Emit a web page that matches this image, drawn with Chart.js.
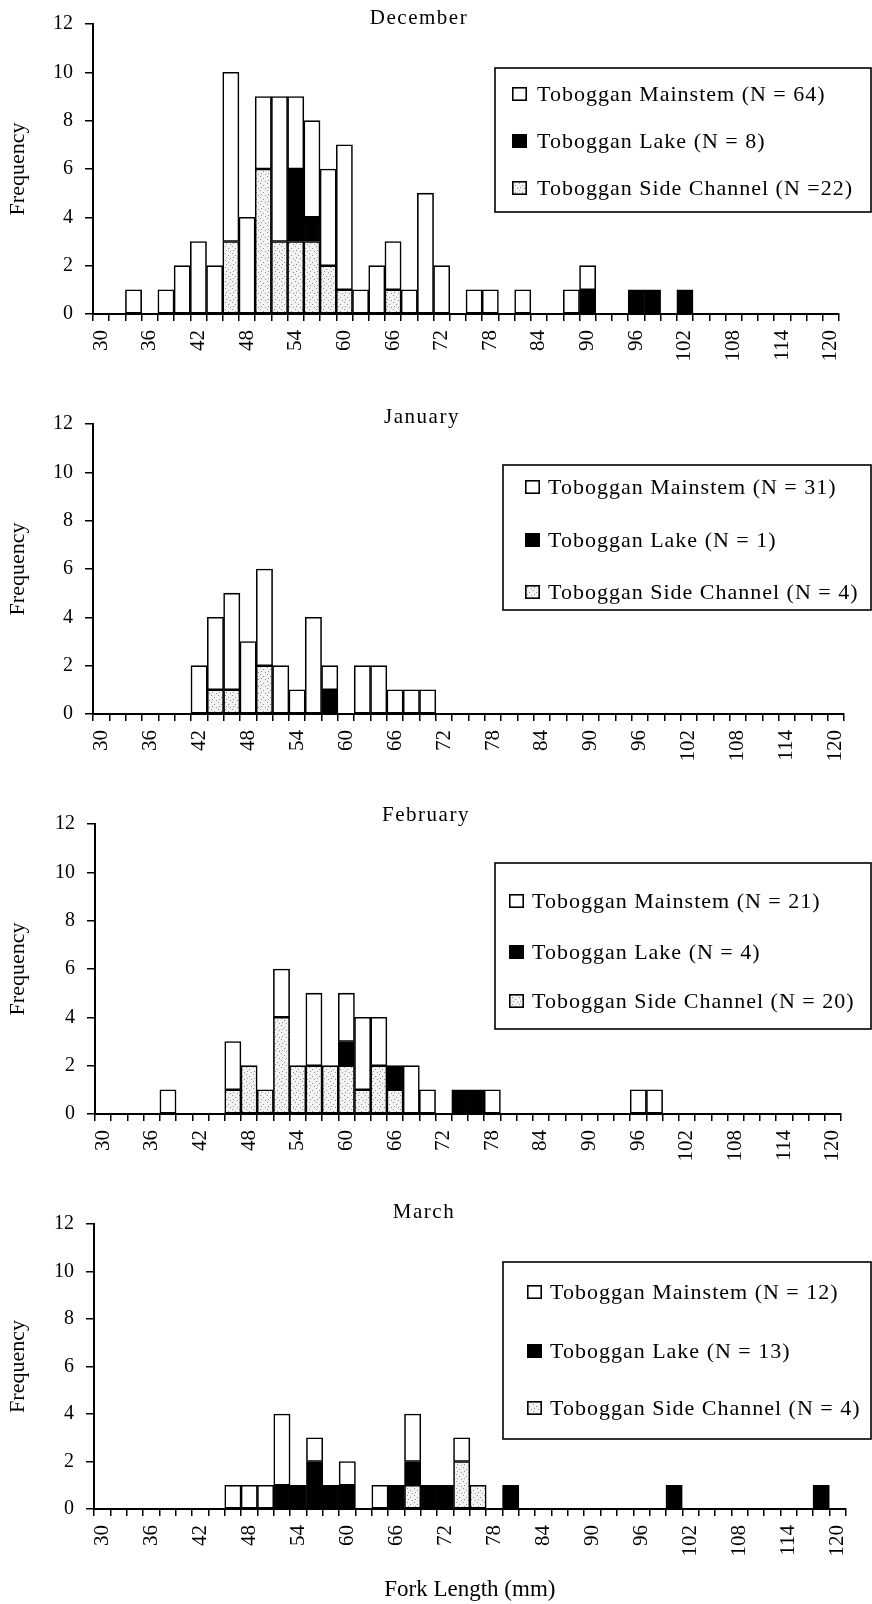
<!DOCTYPE html>
<html><head><meta charset="utf-8">
<script src="https://cdn.jsdelivr.net/npm/chart.js@4"></script>
<style>
html,body{margin:0;padding:0;background:#fff;}
#wrap{position:relative;width:872px;height:1604px;overflow:hidden;background:#fff;}
canvas{position:absolute;left:0;}
</style></head><body><div id="wrap">
<canvas id="c0" width="872" height="400" style="top:0px"></canvas>
<canvas id="c1" width="872" height="400" style="top:400px"></canvas>
<canvas id="c2" width="872" height="400" style="top:800px"></canvas>
<canvas id="c3" width="872" height="404" style="top:1200px"></canvas>
</div>
<script>
// ---- categories (2 mm fork-length bins) and shown tick labels ----
const categories = ['30','32','34','36','38','40','42','44','46','48','50','52','54','56','58','60','62','64','66','68','70','72','74','76','78','80','82','84','86','88','90','92','94','96','98','100','102','104','106','108','110','112','114','116','118','120'];
const shownTicks = ['30','36','42','48','54','60','66','72','78','84','90','96','102','108','114','120'];
const yTicks = [0,2,4,6,8,10,12];

// ---- December ----
const decMainstem = [0,0,1,0,1,2,3,2,7,4, 3,6,3,4,4,6,1,2,2,1, 5,2,0,1,1,0,1,0,0,1, 1,0,0,0,0,0,0,0,0,0, 0,0,0,0,0,0];
const decLake     = [0,0,0,0,0,0,0,0,0,0, 0,0,3,1,0,0,0,0,0,0, 0,0,0,0,0,0,0,0,0,0, 1,0,0,1,1,0,1,0,0,0, 0,0,0,0,0,0];
const decSide     = [0,0,0,0,0,0,0,0,3,0, 6,3,3,3,2,1,0,0,1,0, 0,0,0,0,0,0,0,0,0,0, 0,0,0,0,0,0,0,0,0,0, 0,0,0,0,0,0];
const decLabels   = ['Toboggan Mainstem (N = 64)','Toboggan Lake (N = 8)','Toboggan Side Channel (N =22)'];

// ---- January ----
const janMainstem = [0,0,0,0,0,0,2,3,4,3, 4,2,1,4,1,0,2,2,1,1, 1,0,0,0,0,0,0,0,0,0, 0,0,0,0,0,0,0,0,0,0, 0,0,0,0,0,0];
const janLake     = [0,0,0,0,0,0,0,0,0,0, 0,0,0,0,1,0,0,0,0,0, 0,0,0,0,0,0,0,0,0,0, 0,0,0,0,0,0,0,0,0,0, 0,0,0,0,0,0];
const janSide     = [0,0,0,0,0,0,0,1,1,0, 2,0,0,0,0,0,0,0,0,0, 0,0,0,0,0,0,0,0,0,0, 0,0,0,0,0,0,0,0,0,0, 0,0,0,0,0,0];
const janLabels   = ['Toboggan Mainstem (N = 31)','Toboggan Lake (N = 1)','Toboggan Side Channel (N = 4)'];

// ---- February ----
const febMainstem = [0,0,0,0,1,0,0,0,2,0, 0,2,0,3,0,2,3,2,0,2, 1,0,0,0,1,0,0,0,0,0, 0,0,0,1,1,0,0,0,0,0, 0,0,0,0,0,0];
const febLake     = [0,0,0,0,0,0,0,0,0,0, 0,0,0,0,0,1,0,0,1,0, 0,0,1,1,0,0,0,0,0,0, 0,0,0,0,0,0,0,0,0,0, 0,0,0,0,0,0];
const febSide     = [0,0,0,0,0,0,0,0,1,2, 1,4,2,2,2,2,1,2,1,0, 0,0,0,0,0,0,0,0,0,0, 0,0,0,0,0,0,0,0,0,0, 0,0,0,0,0,0];
const febLabels   = ['Toboggan Mainstem (N = 21)','Toboggan Lake (N = 4)','Toboggan Side Channel (N = 20)'];

// ---- March ----
const marMainstem = [0,0,0,0,0,0,0,0,1,1, 1,3,0,1,0,1,0,1,0,2, 0,0,1,0,0,0,0,0,0,0, 0,0,0,0,0,0,0,0,0,0, 0,0,0,0,0,0];
const marLake     = [0,0,0,0,0,0,0,0,0,0, 0,1,1,2,1,1,0,0,1,1, 1,1,0,0,0,1,0,0,0,0, 0,0,0,0,0,1,0,0,0,0, 0,0,0,0,1,0];
const marSide     = [0,0,0,0,0,0,0,0,0,0, 0,0,0,0,0,0,0,0,0,1, 0,0,2,1,0,0,0,0,0,0, 0,0,0,0,0,0,0,0,0,0, 0,0,0,0,0,0];
const marLabels   = ['Toboggan Mainstem (N = 12)','Toboggan Lake (N = 13)','Toboggan Side Channel (N = 4)'];

const FONT = '"Liberation Serif", "Times New Roman", serif';

function makeStipple(){
  const c = document.createElement('canvas'); c.width = 7; c.height = 7;
  const g = c.getContext('2d');
  g.fillStyle = '#f3f3f3'; g.fillRect(0,0,7,7);
  g.fillStyle = '#909090';
  g.fillRect(1,1,1,1); g.fillRect(4,3,1,1); g.fillRect(2,5,1,1); g.fillRect(6,6,1,1);
  return g.createPattern(c,'repeat');
}
const stipple = makeStipple();
// empty bins are left undrawn (no zero-height outline)
const present = (arr) => arr.map(v => (v === 0 ? null : v));

const titlePlugin = {
  id:'panelTitle',
  afterDraw(chart, args, o){
    const ctx = chart.ctx; ctx.save();
    ctx.font = '21px ' + FONT; ctx.letterSpacing = '1.5px';
    ctx.fillStyle = '#000'; ctx.textAlign = 'center'; ctx.textBaseline = 'middle';
    ctx.fillText(o.text, o.x, o.y); ctx.restore();
  }
};
const boxLegendPlugin = {
  id:'boxLegend',
  afterDraw(chart, args, o){
    const ctx = chart.ctx; ctx.save();
    ctx.fillStyle = '#fff'; ctx.fillRect(o.x, o.y, o.w, o.h);
    ctx.strokeStyle = '#000'; ctx.lineWidth = 1.6; ctx.strokeRect(o.x, o.y, o.w, o.h);
    const order = [2,1,0];
    order.forEach((di,k) => {
      const ds = chart.data.datasets[di];
      const cy = o.rows[k];
      ctx.fillStyle = ds.backgroundColor; ctx.fillRect(o.sw, cy-7, 15, 14);
      ctx.lineWidth = 1.6; ctx.strokeStyle = '#000'; ctx.strokeRect(o.sw+0.8, cy-6.2, 13.4, 12.4);
      ctx.fillStyle = '#000'; ctx.font = '22px ' + FONT; ctx.letterSpacing = '1px';
      ctx.textAlign = 'left'; ctx.textBaseline = 'middle';
      ctx.fillText(ds.label, o.tx, cy+1);
    });
    ctx.restore();
  }
};

const panels = [
  {id:'c0', title:'December', main:decMainstem, lake:decLake, side:decSide, labels:decLabels,
   padTop:23, padRight:33, yWidth:93, xHeight:86, tx:419, ty:18, xTitle:false,
   legend:{x:495, y:68, w:376, h:144, rows:[94,141,188], sw:512, tx:537}},
  {id:'c1', title:'January', main:janMainstem, lake:janLake, side:janSide, labels:janLabels,
   padTop:20, padRight:28, yWidth:93, xHeight:86, tx:422, ty:17, xTitle:false,
   legend:{x:503, y:65, w:368, h:145, rows:[87,140,192], sw:525, tx:548}},
  {id:'c2', title:'February', main:febMainstem, lake:febLake, side:febSide, labels:febLabels,
   padTop:18, padRight:31, yWidth:95, xHeight:86, tx:426, ty:15, xTitle:false,
   legend:{x:495, y:63, w:376, h:166, rows:[101,152,201], sw:509, tx:532}},
  {id:'c3', title:'March', main:marMainstem, lake:marLake, side:marSide, labels:marLabels,
   padTop:14, padRight:25, yWidth:94, xHeight:95, tx:424, ty:12, xTitle:true,
   legend:{x:503, y:62, w:368, h:177, rows:[92,151,208], sw:527, tx:550}}
];

panels.forEach(p => {
  new Chart(document.getElementById(p.id), {
    type:'bar',
    data:{
      labels: categories,
      datasets:[
        {label:p.labels[2], data:present(p.side), backgroundColor:stipple, stack:'s'},
        {label:p.labels[1], data:present(p.lake), backgroundColor:'#000000', stack:'s'},
        {label:p.labels[0], data:present(p.main), backgroundColor:'#ffffff', stack:'s'}
      ]
    },
    options:{
      responsive:false, animation:false, devicePixelRatio:1,
      layout:{padding:{top:p.padTop, right:p.padRight, left:0, bottom:0}},
      datasets:{bar:{barPercentage:1, categoryPercentage:1, borderColor:'#000', borderWidth:1.6, borderSkipped:false}},
      plugins:{
        legend:{display:false}, tooltip:{enabled:false},
        panelTitle:{text:p.title, x:p.tx, y:p.ty},
        boxLegend:p.legend
      },
      scales:{
        x:{
          stacked:true,
          grid:{display:true, drawOnChartArea:false, drawTicks:true, tickLength:7, color:'#000', lineWidth:1.5, offset:true},
          border:{display:true, color:'#000', width:2},
          ticks:{autoSkip:false, maxRotation:90, minRotation:90, padding:9, color:'#000',
                 font:{family:FONT, size:21},
                 callback:(v,i) => shownTicks.includes(categories[i]) ? categories[i] : ''},
          afterFit:(s) => { s.height = p.xHeight; },
          title: p.xTitle ? {display:true, text:'Fork Length (mm)', color:'#000',
                  font:{family:FONT, size:23, lineHeight:1.2}, padding:{top:0, bottom:0}} : {display:false}
        },
        y:{
          stacked:true, min:0, max:12,
          afterBuildTicks:(s) => { s.ticks = yTicks.map(v => ({value:v})); },
          grid:{drawOnChartArea:false, drawTicks:true, tickLength:8, color:'#000', lineWidth:1.5},
          border:{display:true, color:'#000', width:2},
          ticks:{padding:12, color:'#000', font:{family:FONT, size:20}},
          afterFit:(s) => { s.width = p.yWidth; },
          title:{display:true, text:'Frequency', color:'#000', font:{family:FONT, size:22, lineHeight:1.2}, padding:{top:5, bottom:0}}
        }
      }
    },
    plugins:[titlePlugin, boxLegendPlugin]
  });
});
</script>
</body></html>
